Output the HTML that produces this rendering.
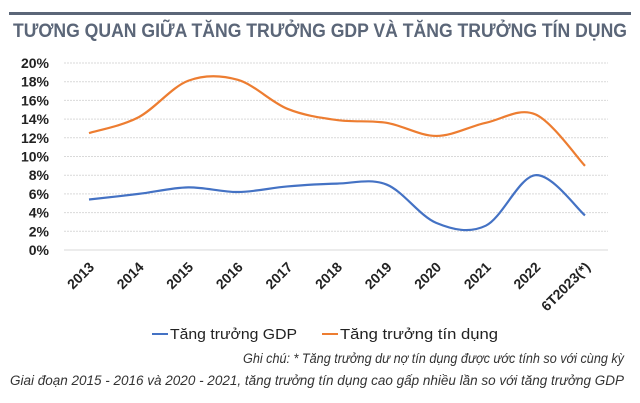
<!DOCTYPE html>
<html><head><meta charset="utf-8"><style>
body{margin:0;background:#fff;}
svg{display:block;font-family:"Liberation Sans",sans-serif;}
</style></head><body>
<svg id="chart" width="640" height="403" viewBox="0 0 640 403">
<rect x="9" y="12" width="622" height="3" fill="#5b6678"/>
<text x="13" y="37" font-size="19" font-weight="bold" fill="#5b6678" textLength="614" lengthAdjust="spacingAndGlyphs">TƯƠNG QUAN GIỮA TĂNG TRƯỞNG GDP VÀ TĂNG TRƯỞNG TÍN DỤNG</text>
<g id="grid"></g><g id="yticks"></g><g id="xticks"></g><g id="series"></g>
<g>
<line x1="152" y1="334" x2="168" y2="334" stroke="#4472c4" stroke-width="2"/>
<text x="170" y="339" font-size="15" fill="#222" textLength="127" lengthAdjust="spacingAndGlyphs">Tăng trưởng GDP</text>
<line x1="322" y1="334" x2="338" y2="334" stroke="#ed7d31" stroke-width="2"/>
<text x="340" y="339" font-size="15" fill="#222" textLength="158" lengthAdjust="spacingAndGlyphs">Tăng trưởng tín dụng</text>
</g>
<text x="624" y="363" font-size="13.5" font-style="italic" fill="#333" text-anchor="end" textLength="381" lengthAdjust="spacingAndGlyphs">Ghi chú: * Tăng trưởng dư nợ tín dụng được ước tính so với cùng kỳ</text>
<text x="624" y="385" font-size="13.5" font-style="italic" fill="#333" text-anchor="end" textLength="614" lengthAdjust="spacingAndGlyphs">Giai đoạn 2015 - 2016 và 2020 - 2021, tăng trưởng tín dụng cao gấp nhiều lần so với tăng trưởng GDP</text>
</svg>
<script>
const categories=["2013","2014","2015","2016","2017","2018","2019","2020","2021","2022","6T2023(*)"];
const gdpValues=[5.4,6.0,6.7,6.2,6.8,7.1,7.0,2.9,2.6,8.0,3.7];
const creditValues=[12.5,14.2,18.1,18.2,15.1,13.9,13.6,12.2,13.6,14.5,9.0];
const yTicks=[0,2,4,6,8,10,12,14,16,18,20];
const NS="http://www.w3.org/2000/svg";
const x0=89,x1=585,yTop=63,yBot=250,xL=64,xR=608;
const xs=i=>x0+(x1-x0)*i/(categories.length-1);
const ys=v=>yBot-(yBot-yTop)*v/20;
function mk(t,a,p){const e=document.createElementNS(NS,t);for(const k in a)e.setAttribute(k,a[k]);p.appendChild(e);return e;}
const grid=document.getElementById('grid'),yt=document.getElementById('yticks'),xt=document.getElementById('xticks'),se=document.getElementById('series');
yTicks.forEach(v=>{
 const l=mk('line',{x1:xL,x2:xR,y1:ys(v),y2:ys(v),stroke:'#d9d9d9','stroke-width':1,'stroke-dasharray':v===0?'':'2,1'},grid);
 
 
 const t=mk('text',{x:49,y:ys(v)+5,'font-size':14,'font-weight':'bold','text-anchor':'end',fill:'#222'},yt);
 t.textContent=v+'%';
 
 
});
categories.forEach((c,i)=>{
 const t=mk('text',{x:0,y:0,'font-size':14,'font-weight':'bold','text-anchor':'end',fill:'#222',transform:`translate(${xs(i)+6},${268}) rotate(-45)`},xt);
 t.textContent=c;
 
 
});
function path(vals){
 const p=vals.map((v,i)=>[xs(i),ys(v)]);
 let d=`M${p[0][0]},${p[0][1]}`;
 for(let i=0;i<p.length-1;i++){
  const a=p[Math.max(0,i-1)],b=p[i],c=p[i+1],e=p[Math.min(p.length-1,i+2)];
  const k=1/6;
  d+=` C${b[0]+(c[0]-a[0])*k},${b[1]+(c[1]-a[1])*k} ${c[0]-(e[0]-b[0])*k},${c[1]-(e[1]-b[1])*k} ${c[0]},${c[1]}`;
 }
 return d;
}
const g=mk('path',{d:path(gdpValues),fill:'none',stroke:'#4472c4','stroke-width':2.2},se);


const cr=mk('path',{d:path(creditValues),fill:'none',stroke:'#ed7d31','stroke-width':2.2},se);


</script>
</body></html>
